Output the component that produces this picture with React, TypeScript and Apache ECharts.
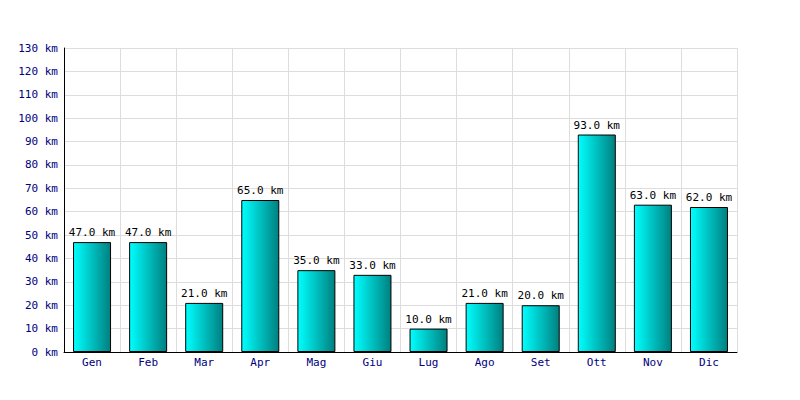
import React, { useEffect, useRef } from "react";
import * as echarts from "echarts";

const months = ["Gen", "Feb", "Mar", "Apr", "Mag", "Giu", "Lug", "Ago", "Set", "Ott", "Nov", "Dic"];
const distances = [47, 47, 21, 65, 35, 33, 10, 21, 20, 93, 63, 62];
const yMin = 0;
const yMax = 130;
const yStep = 10;

const FONT = "'DejaVu Sans Mono', monospace";

export default function App() {
  const ref = useRef<HTMLDivElement>(null);
  useEffect(() => {
    if (!ref.current) return;
    const chart = echarts.init(ref.current, undefined, { renderer: "svg" });
    chart.setOption({
      animation: false,
      backgroundColor: "#ffffff",
      grid: { left: 64, right: 63, top: 48, bottom: 48, containLabel: false },
      xAxis: {
        type: "category",
        data: months,
        boundaryGap: true,
        axisLine: { lineStyle: { color: "#000000", width: 1 } },
        axisTick: { show: false },
        axisLabel: { color: "#000080", fontFamily: FONT, fontSize: 11, margin: 5 },
        splitLine: { show: true, lineStyle: { color: "#dddddd", width: 1 } },
      },
      yAxis: {
        type: "value",
        min: yMin,
        max: yMax,
        interval: yStep,
        axisLine: { show: true, lineStyle: { color: "#000000", width: 1 } },
        axisTick: { show: false },
        axisLabel: {
          color: "#000080",
          fontFamily: FONT,
          fontSize: 11,
          margin: 6,
          formatter: (v: number) => `${v} km`,
        },
        splitLine: { show: true, lineStyle: { color: "#dddddd", width: 1 } },
      },
      series: [
        {
          type: "bar",
          data: distances,
          barWidth: 38,
          itemStyle: {
            color: new echarts.graphic.LinearGradient(0, 0, 1, 0, [
              { offset: 0, color: "#00ffff" },
              { offset: 1, color: "#008080" },
            ]),
            borderColor: "#000000",
            borderWidth: 1,
          },
          label: {
            show: true,
            position: "top",
            distance: 4,
            color: "#000000",
            fontFamily: FONT,
            fontSize: 11,
            textBorderWidth: 0,
            formatter: (p: any) => `${Number(p.value).toFixed(1)} km`,
          },
        },
      ],
    });
    return () => chart.dispose();
  }, []);
  return <div ref={ref} style={{ width: 800, height: 400, position: "absolute", left: 0, top: 0 }} />;
}
